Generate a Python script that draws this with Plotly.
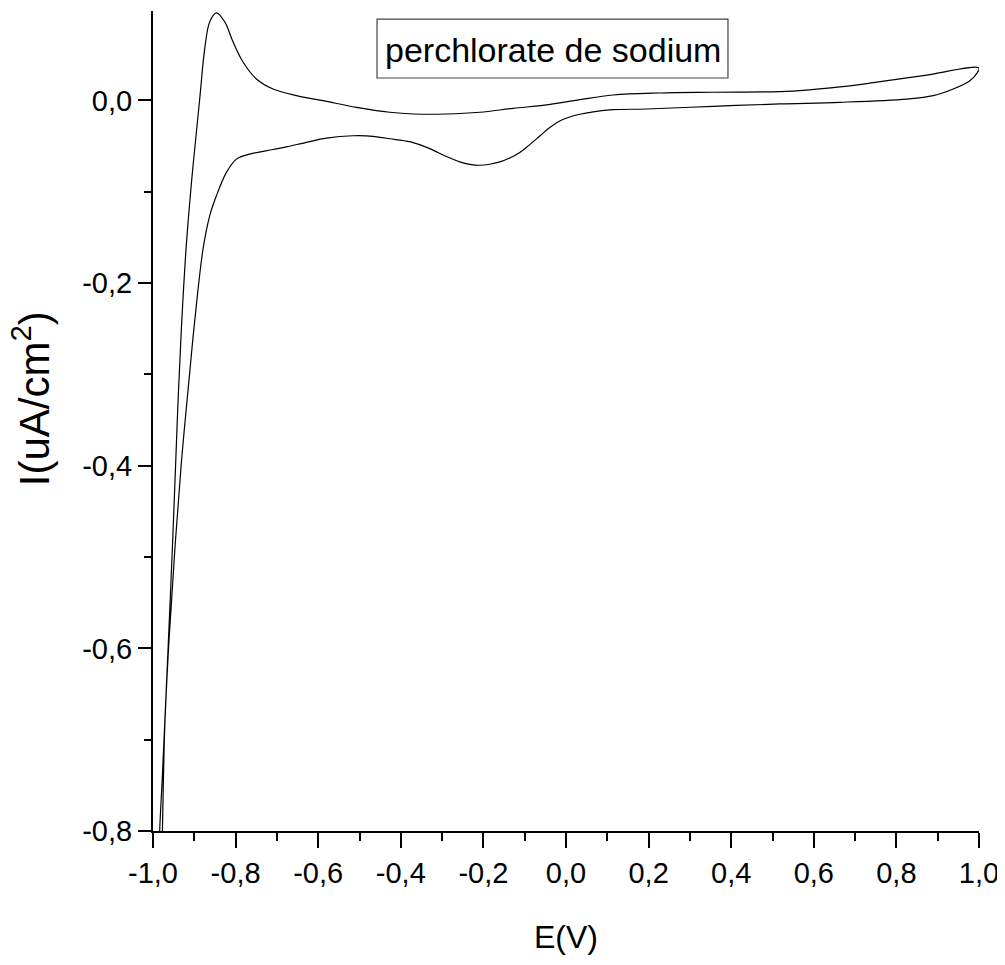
import plotly.graph_objects as go

# Cyclic voltammogram (E in V, I in uA/cm2)
# forward sweep: from -1 V upward through the peak at -0.85 V to +1 V
E_forward = [-0.986, -0.9838, -0.9772, -0.9675, -0.9579, -0.9491, -0.9409, -0.9312,
             -0.9191, -0.9031, -0.8869, -0.8748, -0.8627, -0.8465, -0.8263, -0.8062,
             -0.7820, -0.7496, -0.7094, -0.6527, -0.5883, -0.5074, -0.4267, -0.3703,
             -0.2894, -0.2088, -0.1281, -0.0472, 0.0335, 0.1141, 0.2272, 0.3562,
             0.5178, 0.5824, 0.6631, 0.7438, 0.8649, 1.0]
I_forward = [-0.843, -0.7998, -0.7386, -0.6406, -0.5423, -0.4447, -0.3470, -0.2490,
             -0.157, -0.0715, 0.0016, 0.0565, 0.0861, 0.0960, 0.0861, 0.0642,
             0.0422, 0.0236, 0.0126, 0.0053, -0.0002, -0.0075, -0.0129, -0.0148,
             -0.0148, -0.0129, -0.0086, -0.0049, 0.0009, 0.0060, 0.0082, 0.0090,
             0.0097, 0.0113, 0.0148, 0.0195, 0.0272, 0.0356]
# reverse sweep: from +1 V back to -1 V
E_reverse = [0.9956, 0.9779, 0.9375, 0.8891, 0.8246, 0.6631, 0.5178, 0.3562,
             0.1950, 0.1141, 0.0698, 0.0335, 0.0091, -0.0151, -0.0393, -0.0635,
             -0.0877, -0.1119, -0.1361, -0.1603, -0.1845, -0.2088, -0.2330, -0.2572,
             -0.2894, -0.3299, -0.3703, -0.4122, -0.4510, -0.4672, -0.5156, -0.5800,
             -0.6285, -0.6769, -0.7094, -0.7658, -0.7980, -0.8222, -0.8465, -0.8627,
             -0.8789, -0.9007, -0.9111, -0.9312, -0.9474, -0.9613, -0.9717, -0.9772,
             -0.9794]
I_reverse = [0.0302, 0.0217, 0.0126, 0.0053, 0.0016, -0.0020, -0.0038, -0.0064,
             -0.0093, -0.0101, -0.0121, -0.0151, -0.0181, -0.0224, -0.0295, -0.0389,
             -0.0483, -0.0570, -0.0630, -0.0672, -0.0698, -0.0709, -0.0699, -0.0672,
             -0.0614, -0.0527, -0.0461, -0.0428, -0.0404, -0.0392, -0.0386, -0.0412,
             -0.0458, -0.0508, -0.0537, -0.0587, -0.0642, -0.0787, -0.1044, -0.1263,
             -0.1628, -0.2490, -0.2977, -0.3959, -0.4938, -0.5916, -0.6892, -0.7998,
             -0.8427]

x_tickvals = [-1.0, -0.8, -0.6, -0.4, -0.2, 0.0, 0.2, 0.4, 0.6, 0.8, 1.0]
x_ticktext = ["-1,0", "-0,8", "-0,6", "-0,4", "-0,2", "0,0", "0,2", "0,4", "0,6", "0,8", "1,0"]
y_tickvals = [-0.8, -0.6, -0.4, -0.2, 0.0]
y_ticktext = ["-0,8", "-0,6", "-0,4", "-0,2", "0,0"]

label_text = "perchlorate de sodium"
x_title = "E(V)"
y_title = "I(uA/cm<sup>2</sup>)"

FONT = "Liberation Sans, Arial, Helvetica, sans-serif"

fig = go.Figure()
fig.add_trace(go.Scatter(
    x=E_forward + E_reverse, y=I_forward + I_reverse,
    mode="lines", line=dict(color="black", width=1.2, shape="spline", smoothing=1.0),
    showlegend=False, hoverinfo="skip"))

axis_common = dict(showgrid=False, zeroline=False, showline=True, linecolor="black",
                   linewidth=2, tickcolor="black", tickwidth=2, automargin=False)

# the page body adds an 8 px offset, so the figure is 8 px smaller on each side
fig.update_layout(
    width=997, height=957,
    margin=dict(l=145, r=26, t=3, b=134),
    paper_bgcolor="white", plot_bgcolor="white",
    font=dict(family=FONT, color="black", size=29),
    xaxis=dict(range=[-1.0, 1.0], tickmode="array", tickvals=x_tickvals, ticktext=x_ticktext,
               ticks="outside", ticklen=15,
               minor=dict(tickmode="linear", tick0=-1.0, dtick=0.1, ticks="outside",
                          ticklen=8, tickwidth=2, tickcolor="black"),
               tickfont=dict(size=29, family=FONT),
               title=dict(text=x_title, font=dict(size=32, family=FONT), standoff=38),
               **axis_common),
    yaxis=dict(range=[-0.8, 0.098], tickmode="array", tickvals=y_tickvals, ticktext=y_ticktext,
               ticks="outside", ticklen=13, ticklabelstandoff=0,
               minor=dict(tickmode="linear", tick0=-0.8, dtick=0.1, ticks="outside",
                          ticklen=7, tickwidth=2, tickcolor="black"),
               tickfont=dict(size=29, family=FONT),
               **axis_common),
    xaxis2=dict(overlaying="x", side="top", range=[0, 1], tickmode="linear", tick0=0, dtick=0.2,
                ticks="inside", ticklen=15, showticklabels=False,
                minor=dict(tickmode="linear", tick0=0, dtick=0.1, ticks="inside",
                           ticklen=8, tickwidth=2, tickcolor="black"),
                **axis_common),
    yaxis2=dict(overlaying="y", side="right", range=[0, 1], tickmode="linear", tick0=0, dtick=0.2,
                ticks="inside", ticklen=13, showticklabels=False,
                minor=dict(tickmode="linear", tick0=0, dtick=0.1, ticks="inside",
                           ticklen=6, tickwidth=2, tickcolor="black"),
                **axis_common),
)

# y-axis title (placed slightly above the centre, as in the reference)
fig.add_annotation(text=y_title, xref="paper", yref="paper", x=-0.1474, y=0.5268,
                   xanchor="center", yanchor="middle", textangle=-90, showarrow=False,
                   font=dict(size=42, family=FONT, color="black"))

fig.add_shape(type="rect", xref="paper", yref="paper",
              x0=0.2712, x1=0.6961, y0=0.9183, y1=0.9902,
              line=dict(color="#444444", width=1.2), fillcolor="white", layer="below")
fig.add_annotation(text=label_text, xref="paper", yref="paper", x=0.2785, y=0.9520,
                   xanchor="left", yanchor="middle", showarrow=False,
                   font=dict(size=34, family=FONT, color="black"))

fig.write_html("out.html")
